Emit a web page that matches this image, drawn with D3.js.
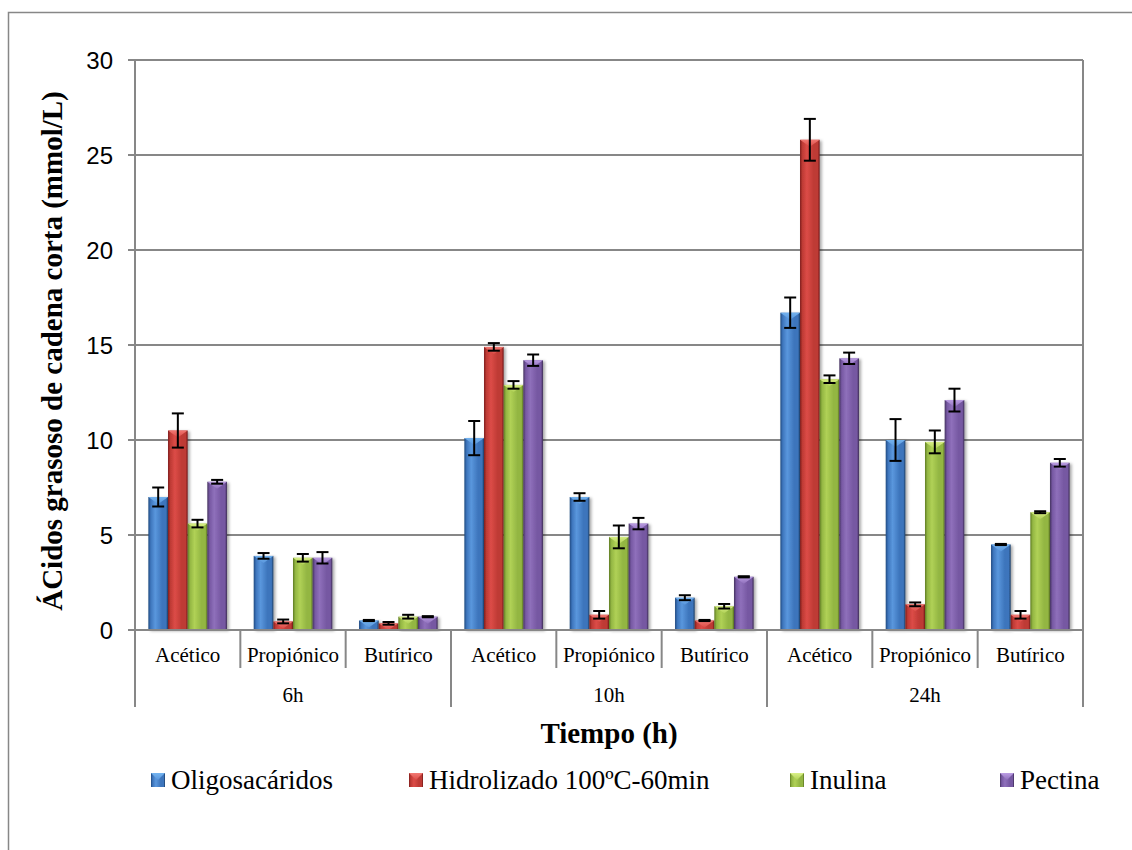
<!DOCTYPE html>
<html>
<head>
<meta charset="utf-8">
<script src="https://cdn.jsdelivr.net/npm/d3@7"></script>
<style>
  html, body { margin: 0; padding: 0; background: #fff; }
  svg { display: block; }
</style>
</head>
<body>
<svg id="chart" width="1132" height="850"></svg>
<script>
// Short-chain fatty acid production by substrate, acid and fermentation time
const groups = ["6h", "10h", "24h"];
const acids = ["Acético", "Propiónico", "Butírico"];
const series = ["Oligosacáridos", "Hidrolizado 100ºC-60min", "Inulina", "Pectina"];

// values in mmol/L, one row per series, ordered 6h (Ac, Pr, Bu), 10h (...), 24h (...)
const oligosacaridos = [7.0, 3.9, 0.5, 10.1, 7.0, 1.7, 16.7, 10.0, 4.5];
const hidrolizado    = [10.5, 0.45, 0.35, 14.9, 0.8, 0.5, 25.8, 1.35, 0.8];
const inulina        = [5.6, 3.8, 0.7, 12.9, 4.9, 1.25, 13.2, 9.9, 6.2];
const pectina        = [7.8, 3.8, 0.7, 14.2, 5.6, 2.8, 14.3, 12.1, 8.8];

// standard deviations
const oligosacaridosErr = [0.5, 0.15, 0.03, 0.9, 0.2, 0.13, 0.8, 1.1, 0.03];
const hidrolizadoErr    = [0.9, 0.1, 0.07, 0.2, 0.2, 0.03, 1.1, 0.1, 0.2];
const inulinaErr        = [0.2, 0.2, 0.1, 0.2, 0.6, 0.12, 0.2, 0.6, 0.05];
const pectinaErr        = [0.1, 0.3, 0.03, 0.3, 0.3, 0.03, 0.3, 0.6, 0.2];

const yTicks = [0, 5, 10, 15, 20, 25, 30];

const values = [oligosacaridos, hidrolizado, inulina, pectina];
const errors = [oligosacaridosErr, hidrolizadoErr, inulinaErr, pectinaErr];

// bevel shading per series: [edge dark, highlight, body, right dark, top facet]
const shades = [
  ["#1f4a80", "#5a97dd", "#3d75bc", "#1b3b63", "#74b4f0"],
  ["#7e1d1a", "#dc4c47", "#be3a35", "#6e1816", "#f27a74"],
  ["#5f7c22", "#b0d156", "#93b643", "#566f1f", "#daf088"],
  ["#45335f", "#8f70bb", "#7658a2", "#3a2a52", "#bc9ee4"]
];

const svg = d3.select("#chart");
const defs = svg.append("defs");

shades.forEach((s, i) => {
  const g = defs.append("linearGradient").attr("id", "bar" + i)
    .attr("x1", "0%").attr("x2", "100%").attr("y1", "0%").attr("y2", "0%");
  g.append("stop").attr("offset", "0%").attr("stop-color", s[0]);
  g.append("stop").attr("offset", "12%").attr("stop-color", s[2]);
  g.append("stop").attr("offset", "35%").attr("stop-color", s[1]);
  g.append("stop").attr("offset", "70%").attr("stop-color", s[2]);
  g.append("stop").attr("offset", "90%").attr("stop-color", s[2]);
  g.append("stop").attr("offset", "100%").attr("stop-color", s[3]);
  const t = defs.append("linearGradient").attr("id", "top" + i)
    .attr("x1", "0%").attr("x2", "0%").attr("y1", "0%").attr("y2", "100%");
  t.append("stop").attr("offset", "0%").attr("stop-color", s[4]);
  t.append("stop").attr("offset", "100%").attr("stop-color", s[1]);
});

const shadow = defs.append("filter").attr("id", "shadow")
  .attr("x", "-30%").attr("y", "-10%").attr("width", "160%").attr("height", "120%");
shadow.append("feDropShadow").attr("dx", 2).attr("dy", 1)
  .attr("stdDeviation", 1.4).attr("flood-color", "#000").attr("flood-opacity", 0.35);

// outer chart frame
svg.append("rect")
  .attr("x", 8.5).attr("y", 12.5).attr("width", 1140).attr("height", 860)
  .attr("fill", "#fff").attr("stroke", "#878787").attr("stroke-width", 1.5);

const plot = { left: 135, right: 1083, top: 60, bottom: 630 };
const grey = "#878787";

const y = d3.scaleLinear().domain([0, 30]).range([plot.bottom, plot.top]);

const categories = [];
groups.forEach(g => acids.forEach(a => categories.push(g + "|" + a)));

const x = d3.scaleBand().domain(categories).range([plot.left, plot.right]).padding(0);
const xs = d3.scaleBand().domain(d3.range(series.length))
  .range([0, x.bandwidth()]).paddingInner(0).paddingOuter(0.68);

// horizontal gridlines
svg.append("g").selectAll("line").data(yTicks).join("line")
  .attr("x1", plot.left - 7).attr("x2", plot.right)
  .attr("y1", d => y(d)).attr("y2", d => y(d))
  .attr("stroke", grey).attr("stroke-width", 2);

// y axis labels
const yAxis = d3.axisLeft(y).tickValues(yTicks).tickSize(0).tickPadding(0);
const yg = svg.append("g").attr("transform", `translate(${plot.left - 22},0)`).call(yAxis);
yg.select(".domain").remove();
yg.selectAll("text")
  .attr("font-family", "'Liberation Sans', Arial, sans-serif")
  .attr("font-size", 24).attr("fill", "#000").attr("dy", "0.34em");

// axis and divider lines
svg.append("line").attr("x1", plot.left).attr("x2", plot.left)
  .attr("y1", plot.top).attr("y2", 707).attr("stroke", grey).attr("stroke-width", 2);
svg.append("line").attr("x1", plot.right).attr("x2", plot.right)
  .attr("y1", plot.top).attr("y2", 707).attr("stroke", grey).attr("stroke-width", 2);

categories.forEach((c, i) => {
  if (i === 0) return;
  const xx = x(c);
  const isGroupEdge = i % acids.length === 0;
  svg.append("line").attr("x1", xx).attr("x2", xx)
    .attr("y1", plot.bottom).attr("y2", isGroupEdge ? 707 : 668)
    .attr("stroke", grey).attr("stroke-width", 2);
});

// bars
const barData = [];
series.forEach((s, si) => {
  categories.forEach((c, ci) => {
    barData.push({ si, c, v: values[si][ci], e: errors[si][ci] });
  });
});

const bars = svg.append("g").selectAll("g").data(barData).join("g");
bars.append("rect")
  .attr("x", d => x(d.c) + xs(d.si))
  .attr("y", d => y(d.v))
  .attr("width", xs.bandwidth())
  .attr("height", d => y(0) - y(d.v))
  .attr("fill", d => `url(#bar${d.si})`)
  .attr("filter", "url(#shadow)");

bars.append("path")
  .attr("d", d => {
    const x0 = x(d.c) + xs(d.si), w = xs.bandwidth();
    const top = y(d.v), h = y(0) - y(d.v);
    const depth = Math.min(7, h);
    return `M${x0},${top}L${x0 + w},${top}L${x0 + w / 2},${top + depth}Z`;
  })
  .attr("fill", d => `url(#top${d.si})`)
  .attr("opacity", 0.95);

// category axis line drawn over bar bottoms
svg.append("line").attr("x1", plot.left - 7).attr("x2", plot.right)
  .attr("y1", plot.bottom).attr("y2", plot.bottom).attr("stroke", grey).attr("stroke-width", 2);

// error bars
const eb = svg.append("g").attr("stroke", "#000").attr("stroke-width", 2).attr("fill", "none");
barData.forEach(d => {
  const cx = x(d.c) + xs(d.si) + xs.bandwidth() / 2;
  const y1 = y(d.v + d.e), y2 = y(d.v - d.e);
  eb.append("line").attr("x1", cx).attr("x2", cx).attr("y1", y1).attr("y2", y2);
  eb.append("line").attr("x1", cx - 6).attr("x2", cx + 6).attr("y1", y1).attr("y2", y1);
  eb.append("line").attr("x1", cx - 6).attr("x2", cx + 6).attr("y1", y2).attr("y2", y2);
});

// category labels (acid level)
const serif = "'Liberation Serif', 'Times New Roman', serif";
svg.append("g").selectAll("text").data(categories).join("text")
  .attr("x", d => x(d) + x.bandwidth() / 2)
  .attr("y", 655).attr("dy", "0.35em")
  .attr("text-anchor", "middle")
  .attr("font-family", serif).attr("font-size", 21)
  .text(d => d.split("|")[1]);

// group labels (time level)
svg.append("g").selectAll("text").data(groups).join("text")
  .attr("x", g => (x(g + "|" + acids[0]) + x(g + "|" + acids[acids.length - 1]) + x.bandwidth()) / 2)
  .attr("y", 695).attr("dy", "0.35em")
  .attr("text-anchor", "middle")
  .attr("font-family", serif).attr("font-size", 21)
  .text(d => d);

// axis titles
svg.append("text")
  .attr("x", (plot.left + plot.right) / 2).attr("y", 733).attr("dy", "0.35em")
  .attr("text-anchor", "middle")
  .attr("font-family", serif).attr("font-size", 29).attr("font-weight", "bold")
  .text("Tiempo (h)");

svg.append("text")
  .attr("transform", `translate(52,${(plot.top + plot.bottom) / 2 + 6}) rotate(-90)`)
  .attr("dy", "0.35em")
  .attr("text-anchor", "middle")
  .attr("font-family", serif).attr("font-size", 29).attr("font-weight", "bold")
  .text("ÁCidos grasoso de cadena corta (mmol/L)");

// legend
const legendX = [151, 409, 790, 1000];
const legendY = 780;
const lg = svg.append("g").selectAll("g").data(series).join("g")
  .attr("transform", (d, i) => `translate(${legendX[i]},${legendY})`);
lg.append("rect").attr("x", 0).attr("y", -7).attr("width", 14).attr("height", 14)
  .attr("fill", (d, i) => `url(#bar${i})`);
lg.append("path").attr("d", "M0,-7L14,-7L7,0Z")
  .attr("fill", (d, i) => `url(#top${i})`);
lg.append("text").attr("x", 20).attr("y", 0).attr("dy", "0.35em")
  .attr("font-family", serif).attr("font-size", 27)
  .text(d => d);
</script>
</body>
</html>
